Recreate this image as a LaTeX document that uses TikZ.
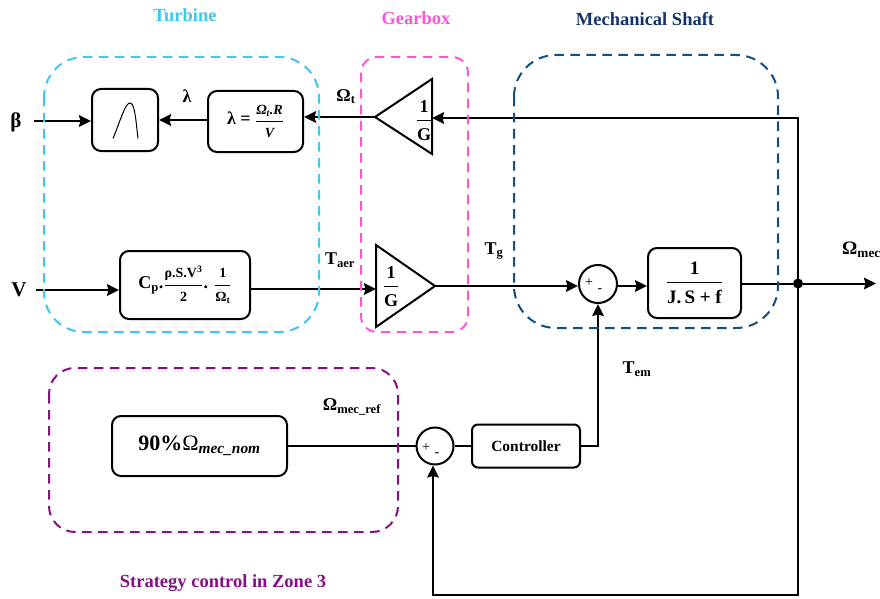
\documentclass[tikz,border=0pt]{standalone}
\usepackage{fontspec}
\setmainfont{Liberation Serif}
\usetikzlibrary{arrows.meta,calc}
\definecolor{turbc}{HTML}{3FC6F5}
\definecolor{gearc}{HTML}{FB55DC}
\definecolor{mechc}{HTML}{0F4F84}
\definecolor{mechtxt}{HTML}{15346E}
\definecolor{stratc}{HTML}{860F86}
\newcommand{\frc}[2]{$\displaystyle{\hbox{\rule[-0.28em]{0pt}{1em}#1}\above 0.9pt\hbox{\rule[-0.1em]{0pt}{1.05em}#2}}$}
\newcommand{\sz}[1]{\fontsize{#1}{#1}\selectfont}
\tikzset{
  blockbox/.style={draw=black,line width=2pt,rounded corners=9pt,inner sep=0pt,font=\bfseries,align=center},
  sumnode/.style={draw=black,line width=2pt,circle,inner sep=0pt},
  wire/.style={draw=black,line width=2pt},
  arrowwire/.style={wire,-{Stealth[length=12pt,width=11.5pt,inset=1.5pt]}},
  zone/.style={line width=2pt,dash pattern=on 9.5pt off 6.5pt},
  zonetitle/.style={font=\bfseries\sz{18.5},inner sep=0pt},
  sig/.style={font=\bfseries\sz{18},inner sep=0pt},
  tri/.style={draw=black,line width=2pt,line join=miter},
  sign/.style={inner sep=0pt,font=\sz{14}},
}
\begin{document}
\begin{tikzpicture}[x=1pt,y=-1pt]
\useasboundingbox (0,0) rectangle (880,599);
\clip (0,0) rectangle (880,599);
% blocks
\node[blockbox,minimum width=66pt,minimum height=62pt] (bell) at (125,120) {};
\node[blockbox,minimum width=95pt,minimum height=61pt] (lam) at (255.5,121.5)
  {\sz{18}λ = \sz{14}\frc{\itshape Ω\textsubscript{t}.R}{\itshape V}};
\node[blockbox,minimum width=130pt,minimum height=68pt] (cp) at (185,285)
  {\sz{18}C\textsubscript{p}.\sz{14}\frc{ρ.S.V\textsuperscript{3}}{2}\sz{18}. \sz{14}\frc{1}{Ω\textsubscript{t}}};
\node[blockbox,minimum width=93pt,minimum height=70pt] (plant) at (694.5,283)
  {\sz{19}\frc{1}{J.\,S + f}};
\node[blockbox,minimum width=175pt,minimum height=60pt] (nom) at (199.5,446)
  {\sz{22}90\%{\mdseries Ω}\textsubscript{\itshape mec\_nom}};
\node[blockbox,rounded corners=6pt,minimum width=108pt,minimum height=43pt,font=\bfseries\sz{15.5}] (ctrl) at (526,446) {Controller};
\node[sumnode,minimum size=38pt] (sumA) at (598,284) {};
\node[sumnode,minimum size=37pt] (sumB) at (435,446) {};
\node[sign] (sumAp) at (589,283) {+};
\node[sign] (sumAm) at (600,291) {-};
\node[sign] (sumBp) at (426,448) {+};
\node[sign] (sumBm) at (437,455) {-};
% bell curve
\draw[black,line width=1pt] (113,138.5) .. controls (120,122) and (125,103) .. (130,103) .. controls (135,103) and (136,122) .. (138,138.5);
% triangles
\coordinate (gTopApex) at (375,117);
\coordinate (gTopA) at (432,79);
\coordinate (gTopB) at (432,154);
\coordinate (gTopIn) at (432,118);
\coordinate (gBotApex) at (435,286);
\coordinate (gBotA) at (376,245);
\coordinate (gBotB) at (376,327);
\coordinate (gBotIn) at (376,289);
\draw[tri] (gTopApex) -- (gTopA) -- (gTopB) -- cycle;
\draw[tri] (gBotApex) -- (gBotA) -- (gBotB) -- cycle;
\node[inner sep=0pt,font=\bfseries\sz{18}] (gTopFrac) at (424,121) {\frc{1}{G}};
\node[inner sep=0pt,font=\bfseries\sz{18}] (gBotFrac) at (391,287) {\frc{1}{G}};
% connector points
\coordinate (betaIn) at (34,121);
\coordinate (vIn) at (36,290);
\coordinate (junc) at (798,283.5);
\coordinate (out) at (876,283.5);
\coordinate (topCorner) at (798,118);
\coordinate (botCorner) at (798,595);
\coordinate (botLeft) at (433,595);
\coordinate (ctrlCorner) at (598,446);
% wires
\draw[arrowwire] (betaIn) -- (betaIn -| bell.west);
\draw[arrowwire] (lam.west |- bell.east) -- (bell.east);
\draw[arrowwire] (gTopApex) -- (gTopApex -| lam.east);
\draw[arrowwire] (vIn) -- (vIn -| cp.west);
\draw[arrowwire] (gBotIn -| cp.east) -- (gBotIn);
\draw[arrowwire] (gBotApex) -- (sumA.west |- gBotApex);
\draw[arrowwire] (sumA.east |- gBotApex) -- (plant.west |- gBotApex);
\draw[arrowwire] (plant.east |- junc) -- (out);
\draw[wire] (nom.east) -- (sumB.west);
\draw[wire] (sumB.east) -- (ctrl.west);
\draw[arrowwire] (ctrl.east) -- (ctrlCorner) -- (sumA.south);
\draw[arrowwire,line join=miter] (junc) -- (topCorner) -- (gTopIn);
\draw[arrowwire,line join=miter] (junc) -- (botCorner) -- (botLeft) -- (botLeft |- sumB.south);
\fill[black] (junc) circle (5pt);
% zones
\draw[zone,turbc,rounded corners=40pt] (44,57) rectangle (319,332);
\draw[zone,gearc,rounded corners=16pt] (361,57) rectangle (468,332);
\draw[zone,mechc,rounded corners=42pt] (514,55) rectangle (778,328);
\draw[zone,stratc,rounded corners=26pt] (49,368) rectangle (398,532);
% titles
\node[zonetitle,text=turbc] (tTurb) at (185,15) {Turbine};
\node[zonetitle,text=gearc] (tGear) at (416,18) {Gearbox};
\node[zonetitle,text=mechtxt] (tMech) at (645,19) {Mechanical Shaft};
\node[zonetitle,text=stratc] (tStrat) at (223,583) {Strategy control in Zone 3};
% signals
\node[sig,font=\bfseries\sz{21}] (lBeta) at (16,122) {β};
\node[sig,font=\bfseries\sz{21}] (lV) at (19,290) {V};
\node[sig] (lLam) at (187,96) {λ};
\node[sig] (lOt) at (346,96.5) {Ω\textsubscript{t}};
\node[sig] (lTaer) at (340,260) {T\textsubscript{aer}};
\node[sig] (lTg) at (494,251) {T\textsubscript{g}};
\node[sig] (lTem) at (637,369) {T\textsubscript{em}};
\node[sig,anchor=west] (lOm) at (842,250) {\sz{19}Ω\textsubscript{mec}};
\node[sig] (lOref) at (352,407) {Ω\textsubscript{mec\_ref}};
\end{tikzpicture}
\end{document}
